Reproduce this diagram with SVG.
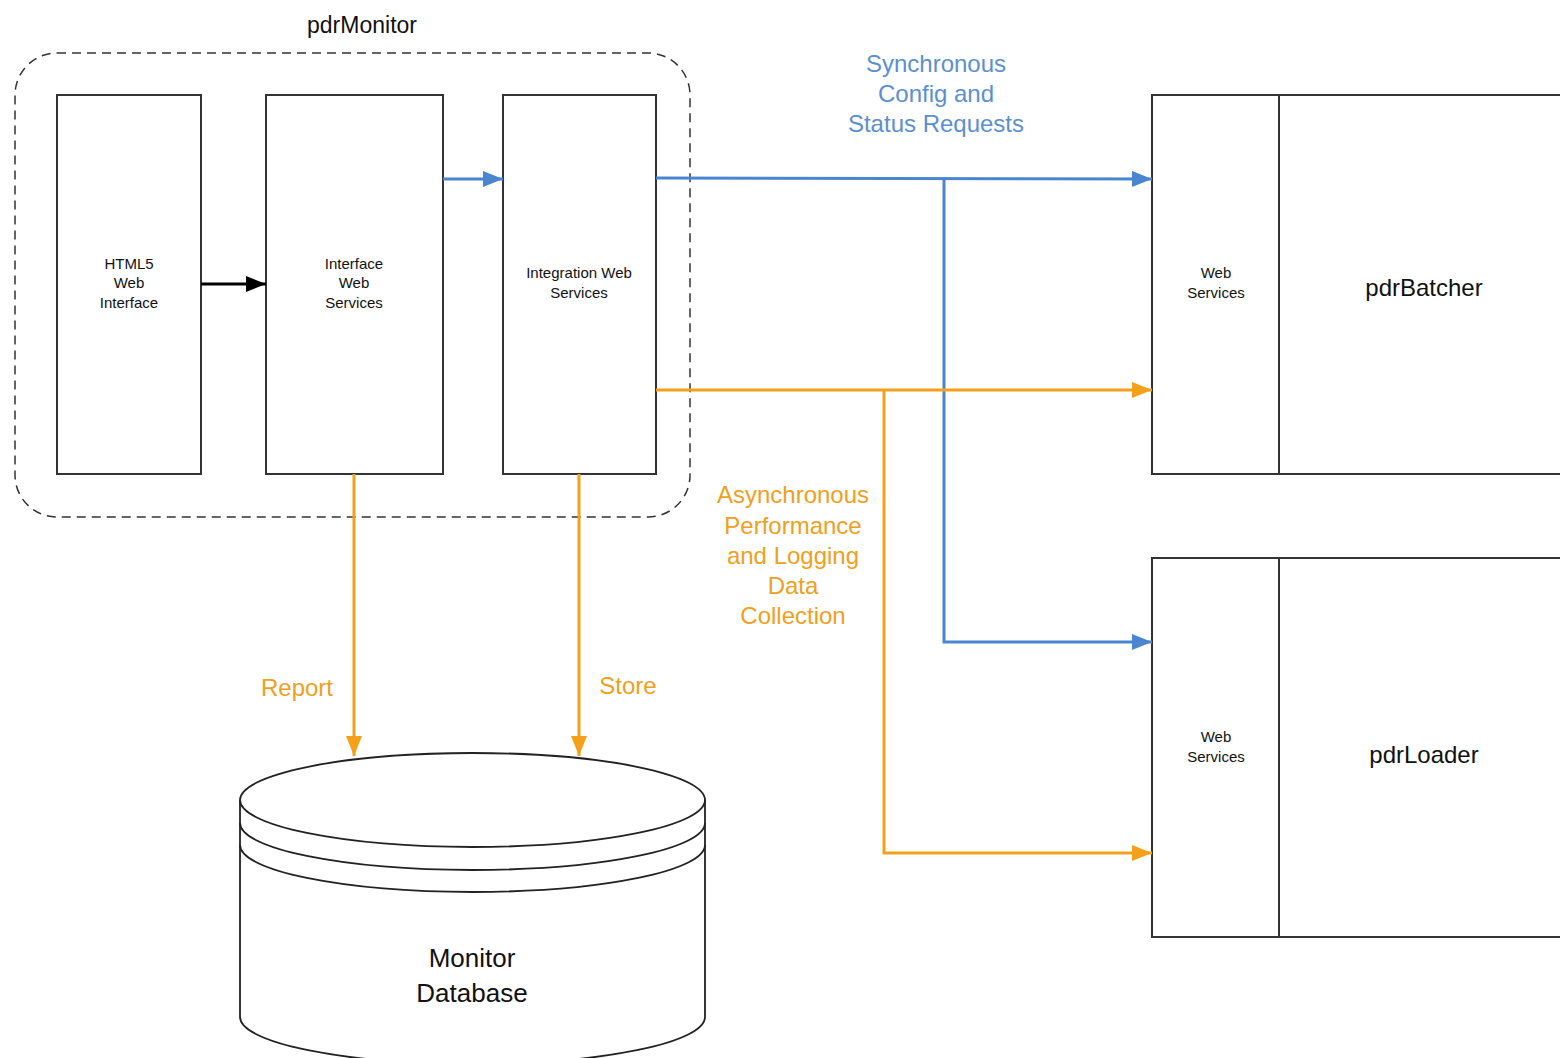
<svg xmlns="http://www.w3.org/2000/svg" width="1560" height="1058" viewBox="0 0 1560 1058">
<style>
.box{fill:#fff;stroke:#333;stroke-width:2}
.t{font-family:"Liberation Sans",Arial,sans-serif;fill:#111;text-anchor:middle}
.s{font-size:15px}
.big{font-size:24px}
.blue{fill:#5b8fd0;font-size:24px;font-family:"Liberation Sans",Arial,sans-serif;text-anchor:middle}
.orange{fill:#f0a020;font-size:24px;font-family:"Liberation Sans",Arial,sans-serif;text-anchor:middle}
.cb{fill:none;stroke:#4a86d0;stroke-width:3}
.co{fill:none;stroke:#f5a01a;stroke-width:3}
.ck{fill:none;stroke:#000;stroke-width:3}
</style>
<defs>
<marker id="ab" markerUnits="userSpaceOnUse" markerWidth="20" markerHeight="16" refX="20" refY="8" orient="auto"><path d="M0,0 L20,8 L0,16 Z" fill="#4a86d0"/></marker>
<marker id="ao" markerUnits="userSpaceOnUse" markerWidth="20" markerHeight="16" refX="20" refY="8" orient="auto"><path d="M0,0 L20,8 L0,16 Z" fill="#f5a01a"/></marker>
<marker id="ak" markerUnits="userSpaceOnUse" markerWidth="20" markerHeight="16" refX="20" refY="8" orient="auto"><path d="M0,0 L20,8 L0,16 Z" fill="#000"/></marker>
</defs>
<rect width="1560" height="1058" fill="#fff"/>

<g id="pdrMonitor">
<rect x="15" y="53" width="675" height="464" rx="42" ry="42" fill="none" stroke="#333" stroke-width="1.5" stroke-dasharray="9,6"/>
<text class="t" x="362" y="33" font-size="23">pdrMonitor</text>
</g>

<g id="html5">
<rect class="box" x="57" y="95" width="144" height="379"/>
<text class="t s" x="129" y="269">HTML5</text>
<text class="t s" x="129" y="288">Web</text>
<text class="t s" x="129" y="308">Interface</text>
</g>

<g id="interfaceWS">
<rect class="box" x="266" y="95" width="177" height="379"/>
<text class="t s" x="354" y="269">Interface</text>
<text class="t s" x="354" y="288">Web</text>
<text class="t s" x="354" y="308">Services</text>
</g>

<g id="integrationWS">
<rect class="box" x="503" y="95" width="153" height="379"/>
<text class="t s" x="579" y="278">Integration Web</text>
<text class="t s" x="579" y="298">Services</text>
</g>

<g id="pdrBatcher">
<rect class="box" x="1152" y="95" width="420" height="379"/>
<line x1="1279" y1="95" x2="1279" y2="474" stroke="#333" stroke-width="2"/>
<text class="t s" x="1216" y="278">Web</text>
<text class="t s" x="1216" y="298">Services</text>
<text class="t big" x="1424" y="296">pdrBatcher</text>
</g>

<g id="pdrLoader">
<rect class="box" x="1152" y="558" width="420" height="379"/>
<line x1="1279" y1="558" x2="1279" y2="937" stroke="#333" stroke-width="2"/>
<text class="t s" x="1216" y="742">Web</text>
<text class="t s" x="1216" y="762">Services</text>
<text class="t big" x="1424" y="763">pdrLoader</text>
</g>

<g id="monitorDB">
<path d="M240,800 A232.5,47 0 0 1 705,800 L705,1017 A232.5,47 0 0 1 240,1017 Z" fill="#fff" stroke="#222" stroke-width="1.8"/>
<path d="M240,800 A232.5,47 0 0 0 705,800" fill="none" stroke="#222" stroke-width="1.8"/>
<path d="M240,823 A232.5,47 0 0 0 705,823" fill="none" stroke="#222" stroke-width="1.8"/>
<path d="M240,845 A232.5,47 0 0 0 705,845" fill="none" stroke="#222" stroke-width="1.8"/>
<text class="t" x="472" y="967" font-size="26">Monitor</text>
<text class="t" x="472" y="1002" font-size="26">Database</text>
</g>

<g id="connectors">
<line class="ck" x1="201" y1="284" x2="266" y2="284" marker-end="url(#ak)"/>
<line class="cb" x1="443" y1="179" x2="503" y2="179" marker-end="url(#ab)"/>
<line class="cb" x1="656" y1="178" x2="1152" y2="179" marker-end="url(#ab)"/>
<polyline class="cb" points="944,178 944,642 1152,642" marker-end="url(#ab)"/>
<line class="co" x1="656" y1="390" x2="1152" y2="390" marker-end="url(#ao)"/>
<polyline class="co" points="884,390 884,853 1152,853" marker-end="url(#ao)"/>
<line class="co" x1="354" y1="474" x2="354" y2="756" marker-end="url(#ao)"/>
<line class="co" x1="579" y1="474" x2="579" y2="756" marker-end="url(#ao)"/>
</g>

<g id="labels">
<text class="blue" x="936" y="72">Synchronous</text>
<text class="blue" x="936" y="102">Config and</text>
<text class="blue" x="936" y="132">Status Requests</text>
<text class="orange" x="793" y="503">Asynchronous</text>
<text class="orange" x="793" y="534">Performance</text>
<text class="orange" x="793" y="564">and Logging</text>
<text class="orange" x="793" y="594">Data</text>
<text class="orange" x="793" y="624">Collection</text>
<text class="orange" x="297" y="696">Report</text>
<text class="orange" x="628" y="694">Store</text>
</g>
</svg>
